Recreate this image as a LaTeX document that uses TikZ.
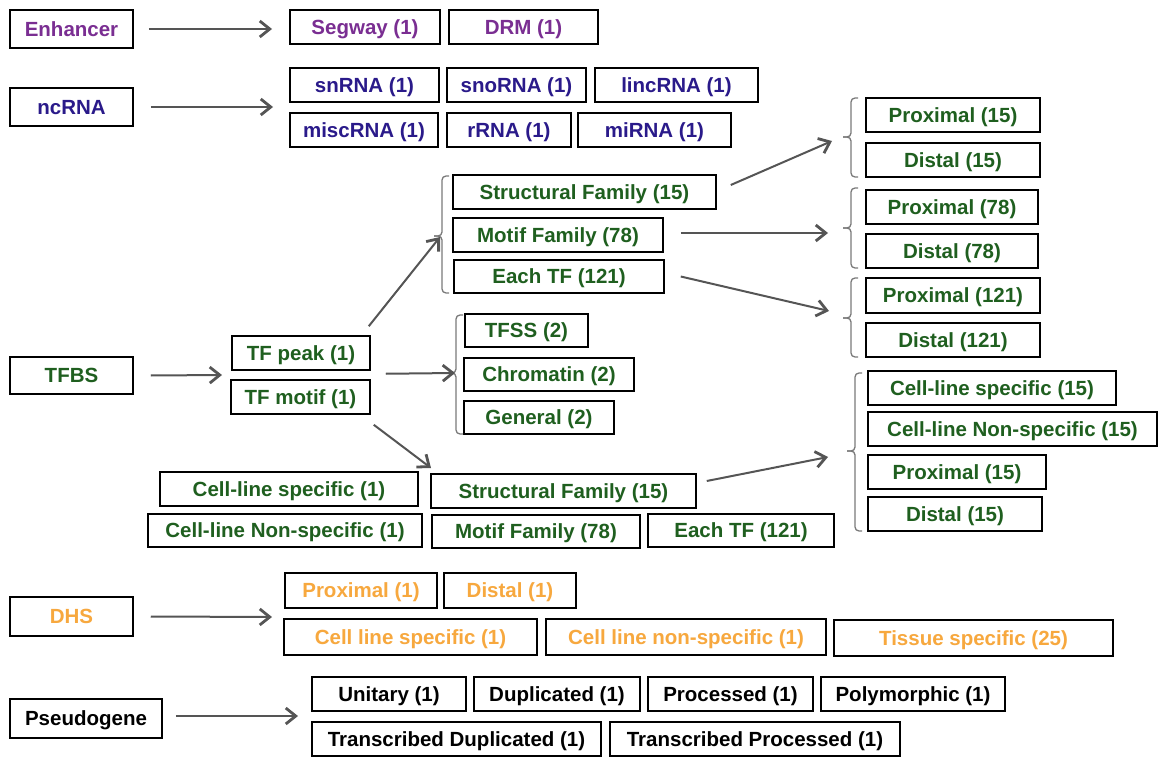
\documentclass[tikz,border=0pt]{standalone}
\usepackage{fontspec}
\setmainfont{Liberation Sans}
\usetikzlibrary{arrows.meta}
\definecolor{cpur}{HTML}{7A2E92}
\definecolor{cblu}{HTML}{2A1A8A}
\definecolor{cgrn}{HTML}{1F5F1F}
\definecolor{corg}{HTML}{F7A83E}
\definecolor{cgry}{HTML}{555555}
\definecolor{cbrc}{HTML}{7A7A7A}
\tikzset{
  bx/.style={draw=black, line width=1.5pt, fill=white, inner sep=0pt,
    text height=14.7pt, text depth=0pt,
    font=\bfseries\fontsize{20.5}{24}\selectfont},
  pur/.style={text=cpur}, blu/.style={text=cblu}, grn/.style={text=cgrn},
  org/.style={text=corg}, blk/.style={text=black},
  arr/.style={draw=cgry, line width=2pt, -{Straight Barb[length=10pt,width=16pt,line width=2.8pt]}},
  brc/.style={draw=cbrc, line width=1.3pt, rounded corners=4pt}
}
\newcommand\mybox[7]{%
  \pgfmathsetmacro\bw{#4-#2}\pgfmathsetmacro\bh{#5-#3}%
  \node[bx,#6,minimum width=\bw pt,minimum height=\bh pt] (#1) at ({(#2+#4)/2},{(#3+#5)/2}) {#7};}
\newcommand\mybrace[4]{%
  \draw[brc] (#1+7,#2) -- (#1,#2) -- (#1,#3) -- (#1-8,#3);
  \draw[brc] (#1-8,#3) -- (#1,#3) -- (#1,#4) -- (#1+7,#4);}
\begin{document}
\begin{tikzpicture}[x=1pt,y=-1pt]
\useasboundingbox (0,0) rectangle (1159,757);
% Enhancer
\mybox{enh}{10}{10}{133}{48}{pur}{Enhancer}
\mybox{seg}{290}{10}{440}{44}{pur}{Segway (1)}
\mybox{drm}{449}{10}{598}{44}{pur}{DRM (1)}
% ncRNA
\mybox{nc}{10}{88}{133}{126}{blu}{ncRNA}
\mybox{snr}{290}{68}{439}{102}{blu}{snRNA (1)}
\mybox{sno}{447}{68}{586}{102}{blu}{snoRNA (1)}
\mybox{linc}{595}{68}{758}{102}{blu}{lincRNA (1)}
\mybox{misc}{290}{113}{438}{147}{blu}{miscRNA (1)}
\mybox{rrna}{447}{113}{571}{147}{blu}{rRNA (1)}
\mybox{mir}{578}{113}{731}{147}{blu}{miRNA (1)}
% TFBS
\mybox{tfbs}{10}{357}{133}{394}{grn}{TFBS}
\mybox{tfpk}{232}{336}{370}{370}{grn}{TF peak (1)}
\mybox{tfmo}{231}{380}{370}{414}{grn}{TF motif (1)}
\mybox{sf1}{453}{175}{716}{209}{grn}{Structural Family (15)}
\mybox{mf1}{453}{218}{663}{252}{grn}{Motif Family (78)}
\mybox{et1}{454}{260}{664}{293}{grn}{Each TF (121)}
\mybox{tfss}{465}{314}{588}{347}{grn}{TFSS (2)}
\mybox{chr}{464}{358}{634}{391}{grn}{Chromatin (2)}
\mybox{gen}{464}{401}{614}{434}{grn}{General (2)}
\mybox{p15}{866}{98}{1040}{132}{grn}{Proximal (15)}
\mybox{d15}{866}{143}{1040}{177}{grn}{Distal (15)}
\mybox{p78}{866}{190}{1038}{224}{grn}{Proximal (78)}
\mybox{d78}{866}{234}{1038}{268}{grn}{Distal (78)}
\mybox{p121}{866}{278}{1040}{313}{grn}{Proximal (121)}
\mybox{d121}{866}{323}{1040}{357}{grn}{Distal (121)}
\mybox{cls1}{160}{472}{418}{506}{grn}{Cell-line specific (1)}
\mybox{clns1}{148}{514}{422}{547}{grn}{Cell-line Non-specific (1)}
\mybox{sf2}{431}{474}{696}{508}{grn}{Structural Family (15)}
\mybox{mf2}{432}{515}{640}{548}{grn}{Motif Family (78)}
\mybox{et2}{648}{514}{834}{547}{grn}{Each TF (121)}
\mybox{cls15}{868}{371}{1116}{405}{grn}{Cell-line specific (15)}
\mybox{clns15}{868}{412}{1157}{446}{grn}{Cell-line Non-specific (15)}
\mybox{p15b}{868}{455}{1046}{489}{grn}{Proximal (15)}
\mybox{d15b}{868}{497}{1042}{531}{grn}{Distal (15)}
% DHS
\mybox{dhs}{10}{597}{133}{636}{org}{DHS}
\mybox{dprox}{285}{573}{437}{608}{org}{Proximal (1)}
\mybox{ddist}{444}{573}{576}{608}{org}{Distal (1)}
\mybox{dcls}{284}{619}{537}{655}{org}{Cell line specific (1)}
\mybox{dclns}{546}{619}{826}{655}{org}{Cell line non-specific (1)}
\mybox{dtis}{834}{620}{1113}{656}{org}{Tissue specific (25)}
% Pseudogene
\mybox{psg}{10}{699}{162}{738}{blk}{Pseudogene}
\mybox{uni}{312}{677}{466}{711}{blk}{Unitary (1)}
\mybox{dup}{474}{677}{640}{711}{blk}{Duplicated (1)}
\mybox{pro}{648}{677}{813}{711}{blk}{Processed (1)}
\mybox{poly}{821}{677}{1005}{711}{blk}{Polymorphic (1)}
\mybox{tdup}{312}{722}{601}{756}{blk}{Transcribed Duplicated (1)}
\mybox{tpro}{610}{722}{900}{756}{blk}{Transcribed Processed (1)}
% brackets
\mybrace{442}{176}{236}{293}
\mybrace{456}{315}{373}{434}
\mybrace{851}{98}{137}{177}
\mybrace{851}{188}{228}{268}
\mybrace{851}{278}{318}{357}
\mybrace{855}{373}{451}{531}
% arrow end points
\coordinate (eE) at (272,29);
\coordinate (eN) at (273,107);
\coordinate (eT) at (222,375);
\coordinate (b1) at (440,237);
\coordinate (b2) at (455,373);
\coordinate (eS2) at (431,468);
\coordinate (b3) at (832,141);
\coordinate (b4) at (828,233);
\coordinate (b5) at (829,311);
\coordinate (b6) at (828,457);
\coordinate (eD) at (272,617);
\coordinate (eP) at (298,716);
% arrows
\draw[arr] ([xshift=15pt]enh.east) -- (eE);
\draw[arr] ([xshift=17pt]nc.east) -- (eN);
\draw[arr] ([xshift=17pt]tfbs.east) -- (eT);
\draw[arr] ([xshift=-2pt,yshift=9pt]tfpk.north east) -- (b1);
\draw[arr] ([xshift=15pt,yshift=-3pt]tfpk.south east) -- (b2);
\draw[arr] ([xshift=3pt,yshift=-10pt]tfmo.south east) -- (eS2);
\draw[arr] ([xshift=14pt,yshift=7pt]sf1.east) -- (b3);
\draw[arr] ([xshift=17pt,yshift=2pt]mf1.east) -- (b4);
\draw[arr] ([xshift=16pt]et1.east) -- (b5);
\draw[arr] ([xshift=10pt,yshift=10pt]sf2.east) -- (b6);
\draw[arr] ([xshift=17pt]dhs.east) -- (eD);
\draw[arr] ([xshift=13pt,yshift=2.5pt]psg.east) -- (eP);
\end{tikzpicture}
\end{document}
